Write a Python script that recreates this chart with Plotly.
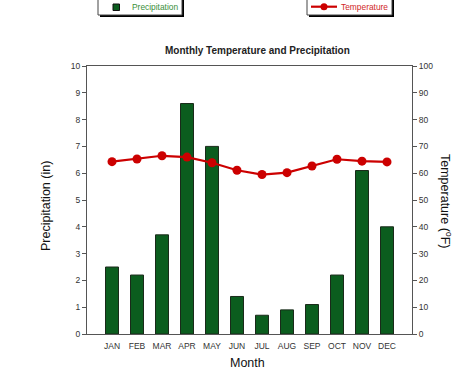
import plotly.graph_objects as go

months = ["JAN", "FEB", "MAR", "APR", "MAY", "JUN", "JUL", "AUG", "SEP", "OCT", "NOV", "DEC"]
precip = [2.5, 2.2, 3.7, 8.6, 7.0, 1.4, 0.7, 0.9, 1.1, 2.2, 6.1, 4.0]
temp = [64.3, 65.3, 66.5, 66.0, 63.9, 61.1, 59.5, 60.2, 62.7, 65.2, 64.5, 64.2]

font = "Liberation Sans, Arial, Helvetica, sans-serif"
W, H = 467, 372
L, R, T, B = 87, 55, 66, 38
pw, ph = W - L - R, H - T - B
BAR_GREEN = "#0b5d1e"
RED = "#cc0000"

def px(x):
    return (x - L) / pw

def py(y):
    return (H - B - y) / ph

fig = go.Figure()
fig.add_trace(go.Bar(
    x=list(range(12)), y=precip, name="Precipitation", width=0.52,
    marker=dict(color=BAR_GREEN, line=dict(color="#1a2a1a", width=1)),
))
fig.add_trace(go.Scatter(
    x=list(range(12)), y=temp, name="Temperature", yaxis="y2", mode="lines+markers",
    line=dict(color=RED, width=2.2), marker=dict(color=RED, size=9),
))

def prect(x0, x1, y0, y1, fill, line_color=None, lw=0):
    return dict(type="rect", xref="paper", yref="paper",
                x0=px(x0), x1=px(x1), y0=py(y1), y1=py(y0),
                fillcolor=fill, line=dict(color=line_color or fill, width=lw), layer="above")

shapes = []
for (x0, x1) in [(98, 182), (307, 392)]:
    shapes.append(prect(x0 + 2, x1 + 2, -10, 17, "black"))
    shapes.append(prect(x0, x1, -10, 15, "white", "#444", 1))
shapes.append(prect(113, 119.5, 4, 10.5, BAR_GREEN, "#111", 1))
shapes.append(dict(type="line", xref="paper", yref="paper", x0=px(311), x1=px(337),
                   y0=py(6.7), y1=py(6.7), line=dict(color=RED, width=2.2), layer="above"))
shapes.append(dict(type="circle", xref="paper", yref="paper", x0=px(320.5), x1=px(327.5),
                   y0=py(10.2), y1=py(3.2), fillcolor=RED, line=dict(color=RED, width=0), layer="above"))

def ann(text, x, y, size, color, angle=0, xanchor="center"):
    return dict(text=text, x=px(x), y=py(y), xref="paper", yref="paper",
                xanchor=xanchor, yanchor="middle", showarrow=False, textangle=angle,
                font=dict(size=size, color=color))

fig.update_layout(
    width=W, height=H,
    margin=dict(l=L, r=R, t=T, b=B, autoexpand=False),
    paper_bgcolor="white", plot_bgcolor="white",
    font=dict(family=font, size=9, color="#222"),
    showlegend=False,
    shapes=shapes,
    xaxis=dict(range=[-1, 12], tickmode="array", tickvals=list(range(12)), ticktext=months,
               showgrid=False, zeroline=False, showline=True, linecolor="#555", linewidth=1,
               mirror=True, ticks="", ticklabelstandoff=4,
               tickfont=dict(size=8.5, color="#333"), fixedrange=True),
    yaxis=dict(range=[0, 10], dtick=1, showgrid=False, zeroline=False, showline=True,
               linecolor="#555", linewidth=1, ticks="outside", ticklen=4, tickcolor="#555",
               tickfont=dict(size=8.5, color="#333")),
    yaxis2=dict(range=[0, 100], dtick=10, overlaying="y", side="right", showgrid=False,
                zeroline=False, showline=True, linecolor="#555", linewidth=1,
                ticks="outside", ticklen=4, tickcolor="#555", tickfont=dict(size=8.5, color="#333")),
    annotations=[
        ann("Precipitation", 130, 7.2, 8.4, "#3a8f3a", xanchor="left"),
        ann("Temperature", 338.5, 7.2, 8.4, "#d02828", xanchor="left"),
        ann("<b>Monthly Temperature and Precipitation</b>", 257, 50, 10, "#222"),
        ann("Precipitation (in)", 46, 206, 12.5, "#111", angle=-90),
        ann("Temperature (<sup>o</sup>F)", 446, 201, 12.5, "#111", angle=90),
        ann("Month", 247, 363, 12.5, "#111"),
    ],
)

fig.write_html("out.html", config={"displayModeBar": False},
               post_script="document.body.style.margin='0';document.body.style.overflow='hidden';")
